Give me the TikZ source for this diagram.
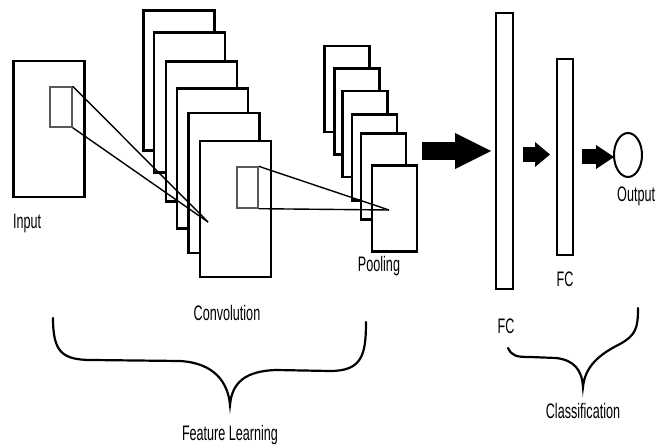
\documentclass[tikz,border=0pt]{standalone}
\usepackage{fontspec}
\newfontfamily\lblfont[FakeStretch=0.6]{Liberation Sans}
\usetikzlibrary{arrows.meta,shapes.geometric}

\begin{document}
\begin{tikzpicture}[x=1pt,y=-1pt,
  fmap/.style={shape=rectangle,draw=black,fill=white,line width=2.2pt,inner sep=0pt,minimum width=71pt,minimum height=140pt},
  pmap/.style={fmap,minimum width=45pt,minimum height=86pt},
  win/.style={shape=rectangle,draw=black!65,line width=1.4pt,inner sep=0pt},
  fcbar/.style={fmap,minimum width=17pt},
  lbl/.style={font=\lblfont\fontsize{21}{23}\selectfont,inner sep=0pt,anchor=base},
  ray/.style={line width=1.4pt},
  brace/.style={line width=2.2pt,line cap=round}]
\useasboundingbox (0,0) rectangle (657,444);
% input image
\node[fmap,minimum height=136pt] (In) at (49,129) {};
\node[win,minimum width=22pt,minimum height=40pt] (inwin) at (61,107) {};
% convolution maps
\node[fmap] (C1) at (179,80.5) {};
\node[fmap] (C2) at (189.5,102.5) {};
\node[fmap] (C3) at (201.5,131.5) {};
\node[fmap] (C4) at (212.5,158.5) {};
\node[fmap] (C5) at (224,183) {};
\node[fmap,minimum height=136pt] (C6) at (235.5,209) {};
\node[win,minimum width=21pt,minimum height=41pt] (cwin) at (247.5,187.5) {};
% pooling maps
\node[pmap] (P1) at (347,89) {};
\node[pmap] (P2) at (357,111.5) {};
\node[pmap] (P3) at (365,134) {};
\node[pmap] (P4) at (374.5,157.5) {};
\node[pmap] (P5) at (383.5,176.5) {};
\node[pmap] (P6) at (394.5,208.5) {};
% fully connected + output
\node[fcbar,minimum height=276pt] (FC1) at (504.5,151) {};
\node[fcbar,minimum width=16pt,minimum height=196pt] (FC2) at (565,157) {};
\node[shape=ellipse,draw=black,line width=2pt,minimum width=28pt,minimum height=44pt,inner sep=0pt] (Out) at (628,155) {};
% receptive field rays
\coordinate (f1) at (208,222);
\coordinate (f2) at (389,210);
\draw[ray] (inwin.north east) -- (f1);
\draw[ray] (inwin.south east) -- (f1);
\draw[ray] (cwin.north east) -- (f2);
\draw[ray] (cwin.south east) -- (f2);
% block arrows
\coordinate (a1s) at (422,151);
\coordinate (a1e) at (491,151);
\coordinate (a2s) at (523,154.5);
\coordinate (a2e) at (550,154.5);
\coordinate (a3s) at (582,157);
\coordinate (a3e) at (614,157);
\draw[line width=18pt,-{Triangle[length=36pt,width=36pt,line width=0pt]}] (a1s) -- (a1e);
\draw[line width=15pt,-{Triangle[length=15pt,width=25pt,line width=0pt]}] (a2s) -- (a2e);
\draw[line width=15pt,-{Triangle[length=18pt,width=24pt,line width=0pt]}] (a3s) -- (a3e);
% labels
\node[lbl,anchor=base west] (lin) at (13,229) {Input};
\node[lbl] (lconv) at (227,320) {Convolution};
\node[lbl] (lpool) at (379,271) {Pooling};
\node[lbl] (lfc1) at (506,333) {FC};
\node[lbl] (lfc2) at (565,286) {FC};
\node[lbl,anchor=base west] (lout) at (617,201) {Output};
\node[lbl] (lfeat) at (230,440) {Feature Learning};
\node[lbl] (lcls) at (583,418) {Classification};
% braces
\draw[brace] (53,318) .. controls (53,352) and (62,360) .. (92,360) -- (180,361) .. controls (214,363) and (228,382) .. (230,405)
  .. controls (232,382) and (246,371) .. (276,370) -- (330,371) .. controls (362,371) and (366,355) .. (366,322);
\draw[brace] (508,348) .. controls (512,356) and (516,357) .. (530,357) -- (556,358) .. controls (574,360) and (582,370) .. (583,387)
  .. controls (585,366) and (600,354) .. (620,344) .. controls (636,335) and (638,328) .. (638,308);
\end{tikzpicture}
\end{document}
